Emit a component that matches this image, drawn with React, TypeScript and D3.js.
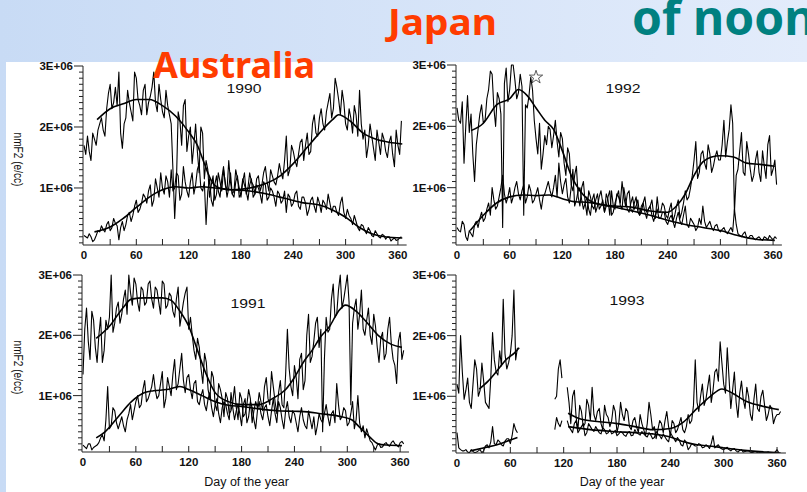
import React from 'react';
import * as d3 from 'd3';

// ---------- data (values in units of 1E+06 e/cc) ----------
const DAYS = d3.range(0, 365, 4); // readings at day 0,4,...,364
const MID_DAYS = d3.range(2, 365, 4); // readings at day 2,6,...,362
const X_TICKS = [0, 60, 120, 180, 240, 300, 360];
const Y_MAJOR = [1, 2, 3];
const Y_LABELS = ['1E+06', '2E+06', '3E+06'];

const A1990 = [
  1.70, 1.85, 1.45, 1.80, 1.95, 2.15, 1.85, 2.55, 2.30, 2.65,
  2.90, 1.65, 2.15, 2.40, 2.10, 2.80, 2.35, 2.60, 2.20, 2.50,
  2.90, 2.25, 2.45, 2.15, 2.35, 2.05, 0.50, 2.25, 1.70, 2.45,
  1.85, 1.40, 2.05, 1.25, 1.90, 1.45, 0.85, 1.20, 0.90, 1.10,
  1.30, 0.85, 1.25, 0.95, 1.15, 0.85, 1.25, 1.00, 1.10, 0.90,
  1.20, 1.05, 1.35, 0.95, 1.20, 1.05, 1.40, 1.15, 1.85, 1.30,
  1.60, 1.35, 1.75, 1.45, 1.90, 1.60, 2.20, 1.85, 2.30, 1.95,
  2.40, 2.15, 2.80, 2.45, 2.60, 2.05, 2.30, 1.90, 2.20, 2.60,
  1.80, 1.50, 2.05, 1.65, 1.95, 1.55, 1.80, 1.50, 1.85, 1.35,
  1.70, 2.10,
];
const A1990_MID = [
  1.55, 1.60, 1.90, 1.70, 2.05, 1.95, 2.30, 2.70, 2.40, 2.35,
  1.90, 2.05, 2.60, 2.25, 2.90, 2.45, 2.20, 2.70, 2.40, 2.65,
  2.40, 2.70, 2.25, 2.60, 2.20, 1.30, 1.10, 2.10, 2.35, 1.60,
  2.00, 1.70, 1.60, 2.00, 1.15, 1.30, 1.05, 0.80, 1.25, 0.95,
  1.10, 1.00, 0.90, 1.30, 1.00, 1.10, 0.90, 1.25, 1.05, 1.15,
  0.95, 1.25, 1.10, 1.30, 1.10, 1.20, 1.25, 1.45, 1.20, 1.70,
  1.45, 1.55, 1.80, 1.70, 1.55, 2.05, 1.90, 2.15, 2.05, 2.25,
  2.55, 2.30, 2.65, 2.20, 2.40, 1.95, 2.15, 2.35, 1.85, 2.05,
  1.95, 1.70, 1.85, 1.45, 1.75, 1.90, 1.60, 1.75, 1.55, 1.95,
  1.55,
];
const B1990 = [
  0.22, 0.18, 0.20, 0.15, 0.30, 0.38, 0.28, 0.45, 0.35, 0.42,
  0.15, 0.45, 0.40, 0.60, 0.55, 0.80, 0.65, 0.90, 0.75, 1.05,
  0.80, 1.00, 1.25, 0.90, 1.10, 1.30, 1.00, 1.20, 0.90, 1.10,
  0.85, 1.25, 1.05, 1.40, 0.95, 0.40, 1.15, 0.70, 1.20, 0.85,
  1.35, 0.95, 1.10, 0.85, 1.20, 0.90, 1.05, 0.80, 1.15, 0.90,
  1.00, 0.75, 1.05, 0.85, 0.95, 0.70, 0.90, 0.80, 0.60, 0.85,
  0.75, 0.95, 0.65, 0.85, 0.55, 0.80, 0.70, 0.85, 0.60, 0.75,
  0.90, 0.60, 0.70, 0.55, 0.85, 0.50, 0.55, 0.40, 0.45, 0.30,
  0.38, 0.25, 0.30, 0.20, 0.25, 0.18, 0.22, 0.20, 0.13, 0.18,
  0.15, 0.20,
];
const B1990_MID = [
  0.20, 0.25, 0.12, 0.22, 0.28, 0.32, 0.40, 0.30, 0.50, 0.38,
  0.35, 0.30, 0.55, 0.45, 0.70, 0.60, 0.75, 0.85, 0.95, 0.70,
  1.15, 0.85, 1.00, 1.20, 0.85, 0.95, 1.25, 0.80, 1.35, 0.95,
  1.10, 0.90, 1.30, 1.00, 1.10, 0.95, 0.80, 1.05, 0.95, 1.15,
  1.05, 1.45, 0.90, 1.10, 0.85, 1.15, 0.95, 1.05, 0.85, 1.05,
  0.90, 1.10, 0.80, 1.00, 0.85, 0.95, 0.75, 0.95, 0.90, 0.70,
  0.90, 0.70, 0.85, 0.75, 0.65, 0.85, 0.60, 0.75, 0.80, 0.65,
  0.75, 0.70, 0.60, 0.75, 0.60, 0.65, 0.50, 0.55, 0.35, 0.40,
  0.30, 0.35, 0.22, 0.30, 0.20, 0.24, 0.16, 0.20, 0.16, 0.14,
  0.18,
];
const A1992 = [
  2.30, 2.05, 1.40, 2.50, 2.20, 1.10, 1.95, 2.35, 2.10, 2.60,
  2.85, 2.00, 2.45, 0.35, 2.95, 2.60, 3.00, 2.45, 2.85, 0.55,
  2.30, 2.80, 2.10, 1.55, 1.30, 1.85, 2.00, 1.65, 2.10, 1.50,
  1.80, 1.20, 1.55, 0.95, 1.35, 0.70, 1.10, 0.55, 0.85, 0.65,
  0.90, 0.70, 0.60, 0.85, 0.55, 0.75, 0.95, 0.65, 0.80, 0.60,
  0.85, 0.70, 0.55, 0.75, 0.60, 0.70, 0.55, 0.85, 0.60, 0.70,
  0.50, 0.75, 0.55, 0.80, 0.60, 0.95, 0.85, 1.20, 1.75, 1.25,
  1.60, 1.30, 1.55, 1.35, 1.60, 1.45, 2.10, 1.75, 2.35, 0.60,
  1.30, 1.90, 1.20, 1.55, 1.10, 1.45, 1.25, 1.60, 1.15, 1.85,
  1.30, 1.05,
];
const A1992_MID = [
  2.10, 2.40, 2.00, 1.90, 1.55, 1.70, 2.20, 2.05, 2.45, 2.90,
  2.30, 2.55, 2.20, 2.70, 2.40, 3.00, 2.75, 2.55, 2.65, 2.35,
  2.50, 2.60, 1.80, 2.05, 1.55, 1.70, 1.95, 1.85, 1.75, 1.90,
  1.40, 1.65, 1.05, 1.20, 0.85, 1.00, 0.75, 0.95, 0.70, 0.80,
  0.65, 0.80, 0.70, 0.95, 0.60, 0.85, 0.70, 1.00, 0.65, 0.75,
  0.65, 0.80, 0.60, 0.85, 0.65, 0.80, 0.50, 0.60, 0.75, 0.55,
  0.65, 0.45, 0.70, 0.50, 0.75, 0.80, 1.00, 1.45, 1.15, 1.55,
  1.40, 1.70, 1.25, 1.50, 1.45, 1.70, 1.50, 1.95, 2.05, 1.20,
  1.60, 1.25, 1.75, 1.30, 1.20, 1.60, 1.10, 1.35, 1.70, 1.20,
  1.45,
];
const B1992 = [
  0.35, 0.28, 0.40, 0.14, 0.25, 0.40, 0.35, 0.60, 0.50, 0.75,
  1.00, 0.65, 0.85, 1.20, 0.75, 1.00, 0.85, 1.10, 0.80, 1.05,
  0.85, 0.95, 0.80, 1.00, 0.65, 0.90, 1.10, 0.85, 1.20, 1.40,
  0.90, 1.15, 0.75, 1.30, 0.80, 1.00, 0.65, 0.85, 0.55, 0.90,
  0.70, 0.95, 0.60, 0.80, 0.95, 0.65, 0.85, 1.10, 0.70, 0.95,
  0.60, 0.85, 0.55, 0.75, 0.50, 0.70, 0.45, 0.65, 0.50, 0.60,
  0.40, 0.55, 0.35, 0.60, 0.40, 0.70, 0.35, 0.45, 0.30, 0.50,
  0.70, 0.35, 0.45, 0.30, 0.40, 0.28, 0.35, 0.25, 0.35, 0.65,
  0.25, 0.20, 0.28, 0.18, 0.22, 0.15, 0.20, 0.14, 0.18, 0.22,
  0.15, 0.17,
];
const B1992_MID = [
  0.30, 0.45, 0.20, 0.30, 0.20, 0.45, 0.50, 0.45, 0.65, 0.55,
  0.80, 0.70, 1.00, 0.90, 0.85, 0.75, 1.00, 0.90, 0.95, 0.75,
  1.05, 0.75, 0.90, 0.80, 0.85, 1.00, 0.95, 1.00, 0.85, 1.10,
  1.05, 0.85, 1.00, 0.70, 0.95, 0.80, 0.75, 0.65, 0.80, 0.60,
  0.85, 0.75, 0.90, 0.55, 0.70, 0.90, 0.75, 0.85, 0.90, 0.65,
  0.75, 0.60, 0.70, 0.60, 0.65, 0.55, 0.55, 0.50, 0.60, 0.45,
  0.50, 0.45, 0.50, 0.45, 0.55, 0.40, 0.50, 0.40, 0.35, 0.40,
  0.45, 0.40, 0.35, 0.38, 0.30, 0.32, 0.28, 0.30, 0.28, 0.40,
  0.22, 0.25, 0.18, 0.22, 0.17, 0.18, 0.16, 0.20, 0.15, 0.18,
  0.20,
];
const A1991 = [
  1.35, 2.45, 1.60, 2.25, 1.55, 2.30, 1.75, 2.10, 3.00, 2.20,
  2.55, 2.35, 2.75, 3.00, 2.50, 2.85, 2.40, 2.75, 2.55, 2.90,
  2.45, 2.75, 2.35, 2.85, 2.50, 2.65, 2.30, 2.80, 2.35, 2.70,
  2.10, 2.00, 1.60, 1.80, 1.20, 1.55, 0.95, 1.30, 0.75, 1.10,
  0.65, 0.95, 0.75, 1.15, 0.60, 0.95, 0.70, 1.10, 0.55, 0.90,
  1.05, 0.75, 1.30, 0.85, 1.15, 0.70, 1.25, 0.80, 2.10, 1.15,
  1.50, 0.95, 1.70, 1.25, 2.35, 1.65, 2.20, 1.80, 0.40, 2.30,
  2.10, 2.85, 2.35, 3.00, 2.60, 3.00, 0.85, 2.45, 2.10, 2.75,
  2.00, 2.45, 1.85, 2.15, 1.55, 2.05, 1.70, 2.30, 1.60, 1.20,
  2.05, 1.75,
];
const A1991_MID = [
  2.10, 1.90, 2.40, 1.80, 2.00, 1.55, 2.25, 2.30, 2.05, 2.45,
  2.20, 2.60, 2.35, 2.70, 2.95, 2.55, 2.80, 2.50, 2.85, 2.60,
  2.80, 2.55, 2.90, 2.45, 2.70, 2.40, 2.60, 2.15, 2.55, 2.80,
  2.30, 1.75, 1.95, 1.45, 1.70, 1.10, 1.40, 0.85, 1.20, 0.95,
  1.05, 0.70, 0.90, 0.80, 1.05, 0.65, 0.85, 0.95, 0.75, 0.80,
  0.90, 1.15, 0.95, 1.40, 0.90, 1.05, 0.85, 1.35, 1.45, 1.00,
  1.30, 1.60, 1.10, 2.00, 1.55, 1.90, 2.30, 2.10, 1.60, 2.05,
  2.60, 2.30, 2.75, 2.45, 2.80, 2.55, 2.20, 2.60, 2.35, 2.10,
  2.25, 2.00, 2.35, 1.80, 1.95, 1.60, 2.10, 1.85, 1.50, 1.90,
  1.60,
];
const B1991 = [
  0.18, 0.12, 0.20, 0.14, 0.18, 0.30, 0.25, 1.15, 0.50, 0.75,
  0.45, 0.65, 0.40, 0.70, 0.60, 0.90, 0.80, 1.10, 0.90, 1.05,
  1.35, 0.95, 1.20, 0.80, 1.30, 1.00, 1.60, 1.20, 1.70, 1.05,
  1.35, 0.95, 1.25, 0.85, 1.10, 0.75, 1.05, 0.65, 0.95, 0.55,
  0.90, 0.70, 1.05, 0.60, 0.85, 0.50, 0.95, 0.65, 0.80, 0.45,
  0.90, 0.60, 0.85, 0.50, 0.95, 0.55, 0.80, 0.45, 0.90, 0.55,
  0.70, 0.40, 0.80, 0.50, 0.75, 0.45, 0.35, 0.70, 0.55, 0.85,
  0.50, 0.75, 1.20, 0.60, 0.80, 0.50, 0.70, 0.45, 1.00, 0.40,
  0.30, 0.35, 0.22, 0.10, 0.20, 0.15, 0.22, 0.16, 0.25, 0.18,
  0.22, 0.20,
];
const B1991_MID = [
  0.15, 0.20, 0.10, 0.16, 0.22, 0.35, 0.60, 0.45, 0.80, 0.55,
  0.55, 0.50, 0.60, 0.85, 0.75, 1.00, 0.85, 1.25, 0.95, 1.15,
  1.10, 1.00, 1.40, 0.95, 1.15, 1.35, 1.10, 1.45, 1.25, 1.30,
  1.10, 1.20, 0.90, 1.00, 0.85, 0.95, 0.80, 0.85, 0.70, 0.80,
  0.85, 0.60, 0.80, 0.75, 0.70, 0.85, 0.55, 0.90, 0.60, 0.75,
  0.70, 0.80, 0.65, 0.75, 0.70, 0.90, 0.60, 0.75, 0.65, 0.75,
  0.55, 0.65, 0.60, 0.45, 0.60, 0.65, 0.50, 0.60, 0.70, 0.65,
  0.70, 0.55, 0.85, 0.65, 0.75, 0.55, 0.90, 0.60, 0.55, 0.50,
  0.45, 0.25, 0.15, 0.18, 0.14, 0.20, 0.18, 0.22, 0.20, 0.15,
  0.24,
];
const A1993 = [
  1.20, 2.00, 0.95, 1.30, 0.80, 1.60, 1.00, 1.55, 0.90, 0.80,
  2.05, 1.40, 1.75, 2.60, 1.45, 1.70, 2.75, 1.80, null, null,
  null, null, null, null, null, null, null, null, 1.00, 1.60,
  null, 1.15, 0.55, 1.10, 0.45, 0.75, 0.55, 0.85, 1.15, 0.60,
  0.80, 0.45, 0.70, 0.50, 0.85, 0.40, 0.90, 0.60, 0.75, 0.45,
  0.65, 0.40, 0.55, 0.35, 0.90, 0.45, 0.30, 0.60, 0.40, 0.75,
  0.35, 0.55, 0.45, 0.65, 0.40, 0.70, 0.60, 1.60, 0.75, 1.20,
  0.95, 1.35, 1.10, 1.45, 1.90, 1.20, 1.80, 0.80, 1.40, 0.65,
  1.25, 0.80, 1.00, 0.60, 1.20, 0.75, 1.10, 0.60, 0.85, 0.55,
  0.70, 0.75,
];
const A1993_MID = [
  1.05, 1.40, 1.10, 0.90, 1.20, 1.45, 1.10, 1.25, 0.85, 1.30,
  1.60, 1.35, 1.50, 1.70, 1.55, 2.00, 1.60, null, null, null,
  null, null, null, null, null, null, null, 0.95, 1.45, 1.30,
  null, 0.90, 1.00, 0.65, 0.85, 0.50, 0.95, 0.60, 0.70, 0.75,
  0.55, 0.85, 0.65, 0.60, 0.75, 0.55, 0.70, 0.80, 0.50, 0.60,
  0.50, 0.70, 0.45, 0.55, 0.70, 0.50, 0.45, 0.55, 0.60, 0.50,
  0.60, 0.40, 0.55, 0.45, 0.50, 0.55, 0.85, 0.90, 1.00, 0.85,
  1.15, 0.90, 1.40, 1.25, 1.55, 1.05, 1.30, 1.10, 0.90, 1.05,
  0.95, 1.15, 0.70, 0.95, 0.80, 1.00, 0.85, 0.70, 0.80, 0.65,
  0.70,
];
const B1993 = [
  0.40, 0.12, 0.10, 0.08, 0.12, 0.07, 0.10, 0.07, 0.18, 0.15,
  0.50, 0.20, 0.25, 0.18, 0.30, 0.22, 0.55, 0.40, null, null,
  null, null, null, null, null, null, null, null, 0.65, 0.50,
  null, 0.60, 0.45, 0.55, 0.40, 0.50, 0.35, 0.55, 0.45, 0.50,
  0.40, 0.48, 0.38, 0.45, 0.40, 0.35, 0.42, 0.36, 0.40, 0.35,
  0.45, 0.38, 0.42, 0.35, 0.40, 0.30, 0.42, 0.35, 0.38, 0.28,
  0.40, 0.30, 0.32, 0.20, 0.28, 0.12, 0.22, 0.18, 0.22, 0.15,
  0.20, 0.14, 0.35, 0.18, 0.15, 0.12, 0.16, 0.10, 0.14, 0.08,
  0.12, 0.09, 0.10, 0.07, 0.09, 0.07, 0.08, 0.07, 0.07, 0.07,
  0.12, 0.07,
];
const B1993_MID = [
  0.15, 0.10, 0.12, 0.07, 0.09, 0.08, 0.12, 0.10, 0.20, 0.25,
  0.22, 0.28, 0.20, 0.26, 0.30, 0.35, 0.45, null, null, null,
  null, null, null, null, null, null, null, 0.45, 0.55, 0.60,
  null, 0.50, 0.40, 0.60, 0.45, 0.55, 0.40, 0.50, 0.42, 0.45,
  0.38, 0.45, 0.40, 0.38, 0.44, 0.38, 0.40, 0.34, 0.42, 0.36,
  0.40, 0.36, 0.38, 0.33, 0.36, 0.32, 0.38, 0.30, 0.33, 0.25,
  0.35, 0.25, 0.28, 0.18, 0.24, 0.16, 0.20, 0.18, 0.20, 0.16,
  0.18, 0.22, 0.15, 0.20, 0.13, 0.14, 0.12, 0.13, 0.10, 0.11,
  0.08, 0.10, 0.08, 0.08, 0.07, 0.08, 0.07, 0.08, 0.07, 0.08,
  0.07,
];

// smoothed curves: [day, value]; a null value breaks the curve
const S1990A = [[15,2.12],[30,2.3],[45,2.38],[60,2.45],[75,2.45],[90,2.35],[105,2.18],[120,1.92],[130,1.7],[138,1.4],[146,1.12],[155,1.0],[170,0.97],[190,1.0],[210,1.08],[225,1.2],[240,1.4],[255,1.65],[270,1.9],[285,2.12],[292,2.2],[305,2.1],[320,1.9],[335,1.8],[350,1.75],[365,1.72]];
const S1990B = [[12,0.28],[30,0.36],[45,0.5],[60,0.68],[75,0.85],[90,0.97],[105,1.02],[120,1.0],[135,1.02],[150,1.0],[170,0.97],[190,0.95],[210,0.9],[230,0.83],[250,0.76],[270,0.72],[285,0.64],[300,0.52],[315,0.36],[330,0.25],[345,0.2],[365,0.18]];
const S1992A = [[16,1.93],[30,2.05],[45,2.35],[60,2.45],[70,2.6],[80,2.5],[90,2.3],[100,2.1],[110,1.95],[120,1.6],[130,1.2],[140,0.95],[150,0.8],[165,0.72],[180,0.7],[200,0.68],[220,0.62],[240,0.6],[250,0.7],[260,0.9],[270,1.2],[280,1.42],[290,1.5],[300,1.52],[315,1.5],[330,1.4],[345,1.38],[362,1.35]];
const S1992B = [[15,0.3],[30,0.55],[45,0.75],[60,0.85],[75,0.88],[90,0.87],[105,0.88],[120,0.82],[135,0.77],[150,0.76],[165,0.72],[180,0.68],[200,0.62],[220,0.55],[240,0.47],[260,0.4],[280,0.35],[300,0.3],[320,0.22],[340,0.16],[362,0.14]];
const S1991A = [[15,1.95],[30,2.15],[45,2.45],[55,2.6],[70,2.62],[90,2.62],[100,2.58],[110,2.4],[120,2.15],[130,1.75],[140,1.35],[150,1.05],[165,0.9],[180,0.85],[200,0.85],[215,0.95],[230,1.1],[240,1.3],[250,1.55],[260,1.75],[270,1.98],[280,2.15],[290,2.4],[298,2.5],[310,2.4],[320,2.25],[335,2.0],[350,1.85],[362,1.8]];
const S1991B = [[15,0.3],[25,0.4],[40,0.65],[55,0.9],[70,1.05],[80,1.08],[95,1.1],[110,1.15],[120,1.1],[135,1.0],[150,0.9],[165,0.84],[180,0.82],[200,0.78],[220,0.75],[240,0.74],[255,0.73],[270,0.7],[290,0.66],[305,0.6],[315,0.46],[325,0.32],[335,0.2],[345,0.18],[362,0.17]];
const S1993A = [[25,1.12],[35,1.25],[45,1.42],[55,1.6],[65,1.72],[70,1.8],[95,null],[125,0.72],[140,0.62],[160,0.58],[180,0.55],[200,0.5],[220,0.45],[240,0.47],[255,0.58],[270,0.8],[285,1.0],[298,1.12],[310,1.05],[325,0.92],[340,0.85],[355,0.8],[362,0.78]];
const S1993B = [[15,0.1],[30,0.15],[45,0.2],[60,0.28],[68,0.32],[95,null],[125,0.5],[150,0.45],[175,0.42],[200,0.4],[220,0.38],[240,0.33],[255,0.25],[270,0.2],[290,0.17],[310,0.13],[330,0.1],[350,0.08],[362,0.07]];

const STAR_1992 = { day: 90, value: 2.8 };

// merge the two reading sets into one day-ordered series
function merge(main: (number | null)[], mid: (number | null)[]) {
  const out: [number, number | null][] = [];
  main.forEach((v, i) => {
    out.push([DAYS[i], v]);
    if (i < mid.length) out.push([MID_DAYS[i], mid[i]]);
  });
  return out;
}

// ---------- layout ----------
const W = 807, H = 492;
const CHART_FONT = '"Liberation Sans", Arial, sans-serif';
const HEAD_FONT = '"Noto Sans", "DejaVu Sans", sans-serif';

const PANELS = [
  { year: '1990', a: merge(A1990, A1990_MID), b: merge(B1990, B1990_MID), sa: S1990A, sb: S1990B, left: 84, top: 66, bottom: 245, ppd: 0.872, titleX: 244, titleY: 93, yTitle: true, xTitle: false, star: false },
  { year: '1992', a: merge(A1992, A1992_MID), b: merge(B1992, B1992_MID), sa: S1992A, sb: S1992B, left: 457, top: 65, bottom: 245, ppd: 0.878, titleX: 623, titleY: 93, yTitle: false, xTitle: false, star: true },
  { year: '1991', a: merge(A1991, A1991_MID), b: merge(B1991, B1991_MID), sa: S1991A, sb: S1991B, left: 83, top: 275, bottom: 452, ppd: 0.881, titleX: 248, titleY: 308, yTitle: true, xTitle: true, star: false },
  { year: '1993', a: merge(A1993, A1993_MID), b: merge(B1993, B1993_MID), sa: S1993A, sb: S1993B, left: 457, top: 275, bottom: 453, ppd: 0.889, titleX: 627, titleY: 305, yTitle: false, xTitle: true, star: false },
];

function Panel({ p, idx }: { p: any; idx: number }) {
  const x = d3.scaleLinear().domain([0, 370]).range([p.left, p.left + 370 * p.ppd]);
  const y = d3.scaleLinear().domain([0.065, 3]).range([p.bottom, p.top]);
  const ax = p.left - 1;
  const line = d3.line<any>()
    .defined((d) => d[1] != null)
    .x((d) => x(d[0]))
    .y((d) => y(d[1]));
  const smooth = d3.line<any>()
    .defined((d) => d[1] != null)
    .x((d) => x(d[0]))
    .y((d) => y(d[1]))
    .curve(d3.curveMonotoneX);
  const minor = d3.range(1, 30).map((v) => v / 10).filter((v) => Math.abs(v - Math.round(v)) > 1e-6);
  const xt = d3.range(30, 361, 30);
  const clipId = `clip${idx}`;
  const midX = (x(0) + x(360)) / 2;
  return (
    <g>
      <defs>
        <clipPath id={clipId}>
          <rect x={ax} y={p.top - 1} width={x(370) - ax + 2} height={p.bottom - p.top + 1} />
        </clipPath>
      </defs>
      <g clipPath={`url(#${clipId})`} fill="none" stroke="#000" strokeLinejoin="round">
        <path d={line(p.a) || ''} strokeWidth={1.1} />
        <path d={line(p.b) || ''} strokeWidth={1.1} />
        <path d={smooth(p.sa) || ''} strokeWidth={1.6} />
        <path d={smooth(p.sb) || ''} strokeWidth={1.6} />
      </g>
      <g stroke="#222" strokeWidth={1} fill="none">
        <line x1={ax} x2={ax} y1={y(3)} y2={p.bottom} />
        <line x1={ax} x2={x(370)} y1={p.bottom} y2={p.bottom} />
        {minor.map((v) => (
          <line key={'m' + v} x1={ax - 4} x2={ax} y1={y(v)} y2={y(v)} />
        ))}
        {Y_MAJOR.map((v) => (
          <line key={'M' + v} x1={ax - 9} x2={ax} y1={y(v)} y2={y(v)} />
        ))}
        {xt.map((d) => (
          <line key={'x' + d} x1={x(d)} x2={x(d)} y1={p.bottom} y2={p.bottom - 6} />
        ))}
      </g>
      <g fontFamily={CHART_FONT} fontWeight="bold" fontSize={11.5} fill="#111">
        {Y_MAJOR.map((v, i) => (
          <text key={'yl' + v} x={ax - 10} y={y(v) + 4} textAnchor="end">{Y_LABELS[i]}</text>
        ))}
        {X_TICKS.map((d) => (
          <text key={'xl' + d} x={x(d)} y={p.bottom + 14} textAnchor="middle">{d}</text>
        ))}
      </g>
      <text x={p.titleX} y={p.titleY} textAnchor="middle" fontFamily={CHART_FONT} fontSize={12}
        textLength={35} lengthAdjust="spacingAndGlyphs" fill="#111">{p.year}</text>
      {p.yTitle && (
        <text transform={`translate(14,${(p.top + p.bottom) / 2 + 4}) rotate(90)`} textAnchor="middle"
          fontFamily={CHART_FONT} fontSize={12.5} fill="#111" textLength={54} lengthAdjust="spacingAndGlyphs">nmF2 (e/cc)</text>
      )}
      {p.xTitle && (
        <text x={midX + 5} y={486} textAnchor="middle" fontFamily={CHART_FONT} fontSize={12.5} fill="#111">Day of the year</text>
      )}
      {p.star && (
        <path d={d3.symbol(d3.symbolStar, 55)() || ''} transform={`translate(${x(STAR_1992.day)},${y(STAR_1992.value)})`}
          fill="#fff" stroke="#333" strokeWidth={0.8} />
      )}
    </g>
  );
}

export default function App() {
  return (
    <svg width={W} height={H} viewBox={`0 0 ${W} ${H}`} style={{ position: 'absolute', left: 0, top: 0 }}>
      <defs>
        <linearGradient id="bg" x1="0" x2="1" y1="0" y2="0">
          <stop offset="0" stopColor="#c8dbf5" />
          <stop offset="1" stopColor="#e3ecfb" />
        </linearGradient>
      </defs>
      <rect x={0} y={0} width={W} height={H} fill="url(#bg)" />
      <rect x={6} y={62} width={W - 6} height={H - 62} fill="#fff" />
      {PANELS.map((p, i) => <Panel key={p.year} p={p} idx={i} />)}
      <g fontFamily={HEAD_FONT} fontWeight="bold">
        <text x={388} y={35} fontSize={36} fill="#ff3c00" textLength={109} lengthAdjust="spacingAndGlyphs">Japan</text>
        <text x={632} y={35} fontSize={48} fill="#008080">of noon</text>
        <text x={153} y={78} fontSize={36} fill="#ff3c00">Australia</text>
      </g>
    </svg>
  );
}
